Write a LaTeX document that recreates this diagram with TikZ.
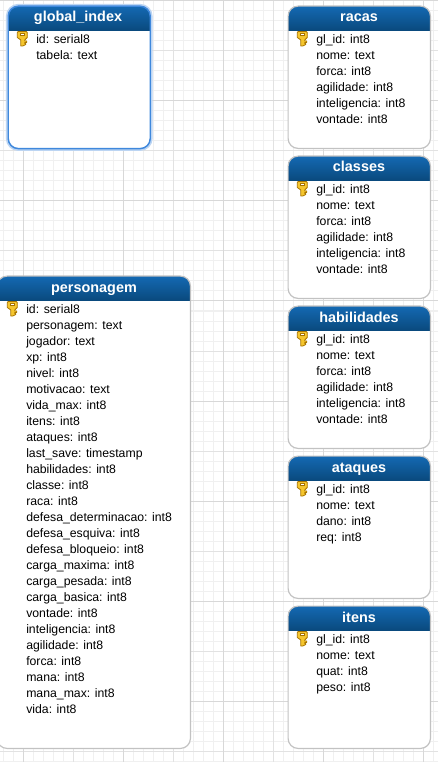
\documentclass[tikz,border=0pt]{standalone}
\usepackage{fontspec}
\setmainfont{Liberation Sans}
\usetikzlibrary{positioning}
\definecolor{headtop}{HTML}{1469B3}
\definecolor{headbot}{HTML}{0A4A7E}
\definecolor{gridminor}{HTML}{F0F0F0}
\definecolor{gridmid}{HTML}{E2E2E2}
\definecolor{gridmajor}{HTML}{D8D8D8}
\definecolor{boxline}{HTML}{C2C2C2}
\definecolor{selline}{HTML}{3F88DC}
\definecolor{keyfill}{HTML}{F5C62E}
\definecolor{keyline}{HTML}{A87400}
\tikzset{
    dbtable/.style={rectangle, draw=boxline, line width=0.9pt, fill=white,
                    rounded corners=7.5pt, anchor=north west, inner sep=0pt,
                    path picture={\foreach \k [evaluate=\k as \mix using {100-\k*100/24}] in {0,...,24}
                        {\fill[sharp corners, headtop!\mix!headbot]
                            ([yshift=-0.75pt*\k]path picture bounding box.north west) rectangle
                            ([yshift=-18.75pt]path picture bounding box.north east);}}},
    selected/.style={draw=selline, line width=1.1pt, preaction={draw=selline!35, line width=3.5pt}},
    title/.style={font=\bfseries\fontsize{10.8}{12}\selectfont, text=white, anchor=base},
    fields/.style={font=\fontsize{9.2}{12}\selectfont, align=left, anchor=north west,
                   inner sep=0pt, text=black},
    pics/dbkey/.style={code={
        \draw[fill=keyfill, draw=keyline, line width=0.6pt, line join=round]
            (-4,0) -- (4,0) -- (5,1) -- (5,6) -- (2.5,8.5) -- (2.5,9.5) -- (4.5,9.5) -- (4.5,11)
            -- (2.5,11) -- (2.5,12) -- (3.5,12) -- (3.5,13) -- (0.5,14.5) -- (-1.5,14.5)
            -- (-1.5,8.5) -- (-5,6) -- (-5,1) -- cycle;
        \fill[white] (-1.8,2.2) rectangle (1.8,3.6);
        \draw[keyline, line width=0.5pt] (-2,2) rectangle (2,3.8);
    }}
}
\begin{document}
\begin{tikzpicture}[x=0.75pt, y=-0.75pt]
\useasboundingbox (0,0) rectangle (438,762);
\clip (0,0) rectangle (438,762);
% grid
\fill[white] (0,0) rectangle (438,762);
\draw[gridminor, line width=0.75pt, shift={(3,1)}] (-3,-1) grid[step=7.5pt] (435,761);
\foreach \gx in {23,73,...,423} {\draw[gridmid, line width=0.75pt] (\gx,0) -- (\gx,762);}
\foreach \gy in {1,51,...,751} {\draw[gridmid, line width=0.75pt] (0,\gy) -- (438,\gy);}
\foreach \gx in {23,123,223,323,423} {\draw[gridmajor, line width=0.75pt] (\gx,0) -- (\gx,762);}
\foreach \gy in {1,101,201,301,401,501,601,701} {\draw[gridmajor, line width=0.75pt] (0,\gy) -- (438,\gy);}

% global_index
\node[dbtable, selected, minimum width=106.5pt, minimum height=106.75pt] (globalindex) at (7.5,5.5) {};
\node[title] (globaltitle) at (78,22) {global\_index};
\node[fields] (globalfields) at (36,34) {id: serial8\\tabela: text};
\pic at (22.3,31.5) {dbkey};

% personagem
\node[dbtable, minimum width=145pt, minimum height=354.25pt] (personagem) at (-3.5,275.5) {};
\node[title] (personagemtitle) at (94,292.5) {personagem};
\node[fields] (personagemfields) at (26,304) {id: serial8\\personagem: text\\jogador: text\\xp: int8\\nivel: int8\\motivacao: text\\vida\_max: int8\\itens: int8\\ataques: int8\\last\_save: timestamp\\habilidades: int8\\classe: int8\\raca: int8\\defesa\_determinacao: int8\\defesa\_esquiva: int8\\defesa\_bloqueio: int8\\carga\_maxima: int8\\carga\_pesada: int8\\carga\_basica: int8\\vontade: int8\\inteligencia: int8\\agilidade: int8\\forca: int8\\mana: int8\\mana\_max: int8\\vida: int8};
\pic at (12.3,301.5) {dbkey};

% racas
\node[dbtable, minimum width=106.75pt, minimum height=106.75pt] (racas) at (287.5,5.5) {};
\node[title] (racastitle) at (359,22) {racas};
\node[fields] (racasfields) at (316,34) {gl\_id: int8\\nome: text\\forca: int8\\agilidade: int8\\inteligencia: int8\\vontade: int8};
\pic at (302.3,31.5) {dbkey};

% classes
\node[dbtable, minimum width=106.75pt, minimum height=106.75pt] (classes) at (287.5,155.5) {};
\node[title] (classestitle) at (359,172) {classes};
\node[fields] (classesfields) at (316,184) {gl\_id: int8\\nome: text\\forca: int8\\agilidade: int8\\inteligencia: int8\\vontade: int8};
\pic at (302.3,181.5) {dbkey};

% habilidades
\node[dbtable, minimum width=106.75pt, minimum height=106.75pt] (habilidades) at (287.5,305.5) {};
\node[title] (habilidadestitle) at (359,322) {habilidades};
\node[fields] (habilidadesfields) at (316,334) {gl\_id: int8\\nome: text\\forca: int8\\agilidade: int8\\inteligencia: int8\\vontade: int8};
\pic at (302.3,331.5) {dbkey};

% ataques
\node[dbtable, minimum width=106.75pt, minimum height=106.75pt] (ataques) at (287.5,455.5) {};
\node[title] (ataquestitle) at (359,472) {ataques};
\node[fields] (ataquesfields) at (316,484) {gl\_id: int8\\nome: text\\dano: int8\\req: int8};
\pic at (302.3,481.5) {dbkey};

% itens
\node[dbtable, minimum width=106.75pt, minimum height=106.75pt] (itens) at (287.5,605.5) {};
\node[title] (itenstitle) at (359,622) {itens};
\node[fields] (itensfields) at (316,634) {gl\_id: int8\\nome: text\\quat: int8\\peso: int8};
\pic at (302.3,631.5) {dbkey};
\end{tikzpicture}
\end{document}
